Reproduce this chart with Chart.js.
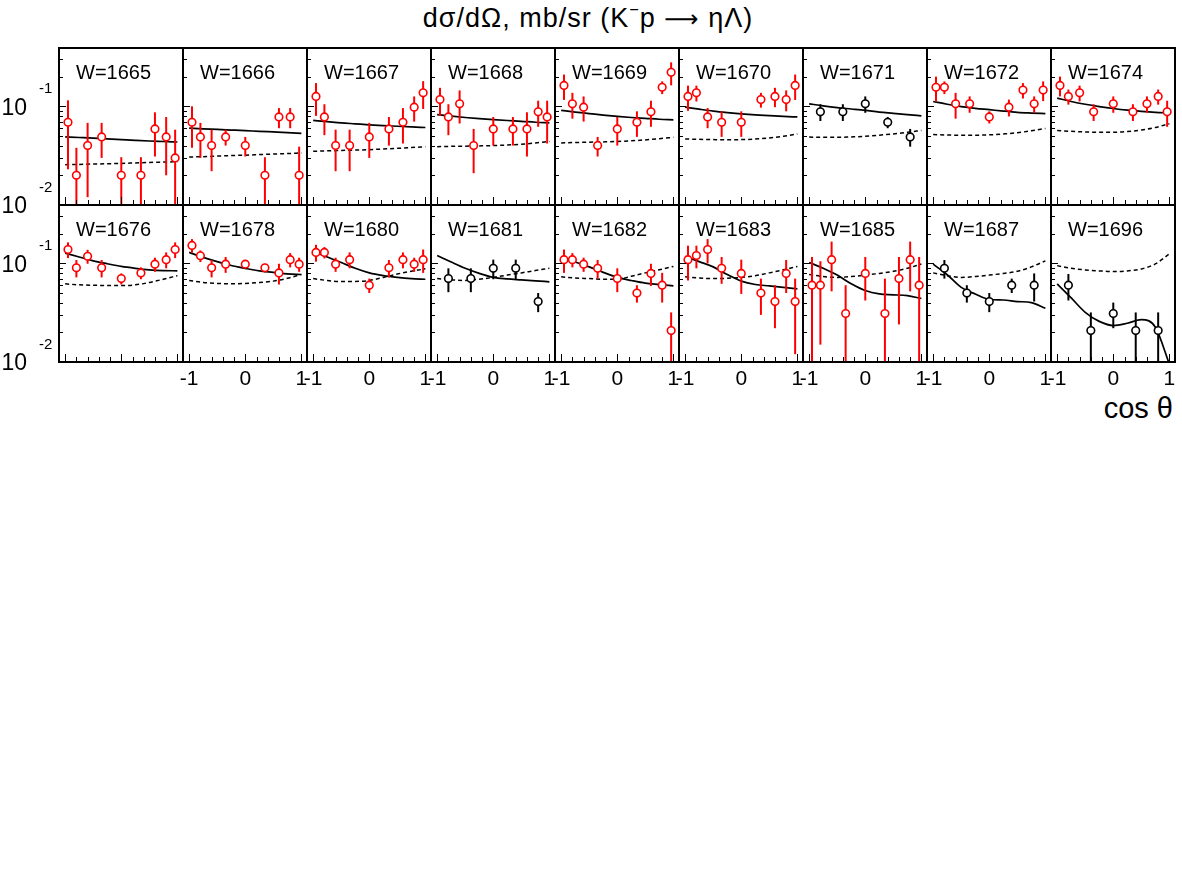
<!DOCTYPE html>
<html>
<head>
<meta charset="utf-8">
<script src="https://cdn.jsdelivr.net/npm/chart.js@4.4.1/dist/chart.umd.min.js"></script>
<style>
  body { margin: 0; background: #fff; }
  #figure { position: relative; width: 1182px; height: 886px; background: #fff; overflow: hidden;
            font-family: "Liberation Sans", Arial, sans-serif; color: #000; }
  #figure canvas { position: absolute; }
  .title { position: absolute; left: 0; width: 1176px; top: 4px; line-height: 28px;
           text-align: center; font-size: 27px; letter-spacing: 1px; white-space: nowrap; }
  .title .sup { font-size: 60%; position: relative; top: -0.75em; }
  .title .arrow { font-family: "DejaVu Sans", sans-serif; font-size: 24px; }
  .xtitle { position: absolute; right: 9px; top: 395px; line-height: 26px; font-size: 29px; white-space: nowrap; }
</style>
</head>
<body>
<div id="figure">
  <div class="title">d&sigma;/d&Omega;, mb/sr (K<span class="sup">&minus;</span>p <span class="arrow">&#x27F6;</span> &eta;&Lambda;)</div>
  <div class="xtitle">cos &theta;</div>
</div>
<script>
// ---- data ---------------------------------------------------------------

const energies = [1665, 1666, 1667, 1668, 1669, 1670, 1671, 1672, 1674,
                  1676, 1678, 1680, 1681, 1682, 1683, 1685, 1687, 1696];

// W values whose data set is plotted with black markers
const blackSets = [1671, 1681, 1687, 1696];

// cos(theta) of the measured points
const cosRed = [-0.95, -0.8, -0.6, -0.35, 0.0, 0.35, 0.6, 0.8, 0.96];
const cosBlack = [-0.8, -0.4, 0.0, 0.4, 0.8];

// dsigma/dOmega, mb/sr
const dsdo = [
  [0.069, 0.020, 0.040, 0.049, 0.020, 0.020, 0.059, 0.049, 0.030],
  [0.069, 0.049, 0.040, 0.049, 0.040, 0.020, 0.078, 0.078, 0.020],
  [0.126, 0.078, 0.040, 0.040, 0.049, 0.059, 0.069, 0.098, 0.137],
  [0.117, 0.078, 0.106, 0.040, 0.059, 0.059, 0.059, 0.088, 0.078],
  [0.163, 0.106, 0.098, 0.040, 0.059, 0.069, 0.088, 0.156, 0.221],
  [0.126, 0.137, 0.078, 0.069, 0.069, 0.117, 0.126, 0.117, 0.163],
  [0.088, 0.088, 0.106, 0.069, 0.049],
  [0.156, 0.156, 0.106, 0.106, 0.078, 0.098, 0.146, 0.106, 0.146],
  [0.163, 0.126, 0.137, 0.088, 0.106, 0.088, 0.106, 0.126, 0.088],
  [0.138, 0.090, 0.118, 0.090, 0.070, 0.080, 0.098, 0.109, 0.138],
  [0.152, 0.119, 0.090, 0.098, 0.098, 0.090, 0.080, 0.109, 0.098],
  [0.129, 0.129, 0.098, 0.109, 0.060, 0.090, 0.109, 0.098, 0.109],
  [0.070, 0.070, 0.089, 0.089, 0.041],
  [0.109, 0.109, 0.098, 0.089, 0.070, 0.050, 0.079, 0.060, 0.0208],
  [0.109, 0.120, 0.138, 0.089, 0.079, 0.050, 0.041, 0.079, 0.041],
  [0.060, 0.060, 0.109, 0.031, 0.079, 0.031, 0.070, 0.109, 0.060],
  [0.089, 0.050, 0.041, 0.060, 0.060],
  [0.060, 0.0208, 0.031, 0.0208, 0.0208]
];

const dsdoErr = [
  [0.046, 0.018, 0.028, 0.019, 0.0105, 0.0105, 0.028, 0.029, 0.028],
  [0.031, 0.019, 0.018, 0.009, 0.009, 0.0105, 0.018, 0.018, 0.019],
  [0.046, 0.027, 0.018, 0.018, 0.019, 0.019, 0.027, 0.028, 0.043],
  [0.037, 0.027, 0.039, 0.019, 0.019, 0.019, 0.028, 0.026, 0.036],
  [0.047, 0.031, 0.028, 0.009, 0.019, 0.020, 0.026, 0.023, 0.058],
  [0.036, 0.025, 0.018, 0.020, 0.020, 0.020, 0.028, 0.028, 0.047],
  [0.017, 0.017, 0.020, 0.009, 0.010],
  [0.044, 0.023, 0.031, 0.020, 0.011, 0.019, 0.026, 0.020, 0.033],
  [0.037, 0.022, 0.025, 0.017, 0.020, 0.017, 0.020, 0.022, 0.026],
  [0.025, 0.018, 0.019, 0.018, 0.009, 0.011, 0.016, 0.020, 0.025],
  [0.024, 0.016, 0.018, 0.018, 0.008, 0.009, 0.019, 0.018, 0.016],
  [0.025, 0.017, 0.016, 0.020, 0.010, 0.018, 0.020, 0.016, 0.029],
  [0.019, 0.019, 0.020, 0.020, 0.009],
  [0.029, 0.018, 0.016, 0.019, 0.019, 0.010, 0.020, 0.020, 0.011],
  [0.042, 0.031, 0.038, 0.027, 0.030, 0.020, 0.019, 0.029, 0.029],
  [0.056, 0.045, 0.057, 0.029, 0.037, 0.039, 0.046, 0.057, 0.056],
  [0.019, 0.010, 0.009, 0.010, 0.019],
  [0.018, 0.011, 0.009, 0.011, 0.011]
];

// model curves, sampled at curveCos
const curveCos = [-1, -0.75, -0.5, -0.25, 0, 0.25, 0.5, 0.75, 1];

const fitSolid = [
  [0.049, 0.0483, 0.0476, 0.0468, 0.046, 0.0452, 0.0445, 0.044, 0.0435],
  [0.060, 0.0592, 0.0583, 0.0575, 0.0567, 0.0558, 0.055, 0.0542, 0.0533],
  [0.072, 0.070, 0.068, 0.0665, 0.065, 0.0638, 0.0628, 0.0618, 0.061],
  [0.0823, 0.0795, 0.077, 0.075, 0.0733, 0.0718, 0.0705, 0.069, 0.068],
  [0.091, 0.0875, 0.0845, 0.0815, 0.079, 0.077, 0.0755, 0.074, 0.073],
  [0.098, 0.0935, 0.0895, 0.0865, 0.084, 0.082, 0.0805, 0.079, 0.078],
  [0.106, 0.101, 0.097, 0.094, 0.091, 0.0875, 0.085, 0.0825, 0.080],
  [0.112, 0.105, 0.0995, 0.0955, 0.0925, 0.0895, 0.087, 0.0855, 0.0843],
  [0.121, 0.112, 0.105, 0.0995, 0.095, 0.0915, 0.089, 0.087, 0.0856],
  [0.127, 0.116, 0.106, 0.099, 0.093, 0.089, 0.086, 0.0845, 0.084],
  [0.129, 0.115, 0.104, 0.095, 0.089, 0.084, 0.081, 0.078, 0.077],
  [0.132, 0.116, 0.102, 0.089, 0.080, 0.075, 0.072, 0.070, 0.069],
  [0.120, 0.103, 0.089, 0.079, 0.072, 0.0695, 0.068, 0.0665, 0.065],
  [0.117, 0.103, 0.092, 0.081, 0.072, 0.067, 0.063, 0.061, 0.059],
  [0.117, 0.104, 0.092, 0.077, 0.066, 0.061, 0.059, 0.057, 0.055],
  [0.102, 0.089, 0.076, 0.062, 0.053, 0.049, 0.048, 0.047, 0.044],
  [0.098, 0.0766, 0.057, 0.0488, 0.043, 0.0425, 0.041, 0.040, 0.035],
  [0.0618, 0.0446, 0.0319, 0.0258, 0.0234, 0.0247, 0.0269, 0.0225, 0.0095]
];

const fitDashed = [
  [0.0256, 0.0258, 0.026, 0.0262, 0.0264, 0.0267, 0.027, 0.0272, 0.0275],
  [0.0306, 0.0309, 0.0313, 0.0317, 0.032, 0.0324, 0.0328, 0.0332, 0.0337],
  [0.035, 0.0354, 0.0357, 0.036, 0.0364, 0.0369, 0.0375, 0.0382, 0.039],
  [0.039, 0.0393, 0.0395, 0.0397, 0.040, 0.0405, 0.0413, 0.0425, 0.044],
  [0.0425, 0.043, 0.0433, 0.0436, 0.044, 0.0447, 0.0457, 0.047, 0.0485],
  [0.0467, 0.0463, 0.046, 0.0458, 0.046, 0.0466, 0.0478, 0.0497, 0.0524],
  [0.0488, 0.0485, 0.0485, 0.049, 0.0497, 0.051, 0.0525, 0.0545, 0.057],
  [0.0517, 0.0512, 0.051, 0.051, 0.0514, 0.0525, 0.054, 0.0565, 0.0597],
  [0.057, 0.0558, 0.055, 0.0545, 0.0545, 0.0555, 0.0575, 0.061, 0.0667],
  [0.062, 0.0605, 0.060, 0.0595, 0.0595, 0.0605, 0.064, 0.069, 0.075],
  [0.067, 0.064, 0.0626, 0.062, 0.0626, 0.064, 0.066, 0.0705, 0.077],
  [0.070, 0.067, 0.0653, 0.0655, 0.067, 0.072, 0.078, 0.083, 0.088],
  [0.070, 0.068, 0.067, 0.069, 0.072, 0.076, 0.080, 0.0845, 0.089],
  [0.073, 0.071, 0.070, 0.069, 0.069, 0.074, 0.080, 0.086, 0.093],
  [0.073, 0.071, 0.070, 0.0705, 0.072, 0.075, 0.080, 0.086, 0.093],
  [0.077, 0.0735, 0.072, 0.0735, 0.076, 0.079, 0.083, 0.089, 0.0985],
  [0.080, 0.075, 0.072, 0.0735, 0.076, 0.079, 0.083, 0.092, 0.106],
  [0.0948, 0.089, 0.0857, 0.0838, 0.0824, 0.0838, 0.0877, 0.0986, 0.1245]
];

const xTickLabels = [-1, 0, 1];
const yLabelValues = [0.1, 0.01];

// ---- layout ---------------------------------------------------------------

const FRAME_W = 124, FRAME_H = 157;
const FRAME_X0 = 59, FRAME_Y0 = 48;
const PAD = { left: 60, right: 8, top: 8, bottom: 70 };
const FONT = '"Liberation Sans", Arial, sans-serif';

// frame, inward ticks, labels and error bars, ROOT style
const panelDeco = {
  id: 'panelDeco',
  beforeDatasetDraw(chart, args) {
    if (args.index !== 0) return;
    const ds = chart.data.datasets[0];
    const { ctx, chartArea: a } = chart;
    const { x, y } = chart.scales;
    ctx.save();
    ctx.beginPath();
    ctx.rect(a.left, a.top, a.right - a.left, a.bottom - a.top);
    ctx.clip();
    ctx.strokeStyle = ds.borderColor;
    ctx.lineWidth = 2;
    ds.data.forEach(p => {
      const px = x.getPixelForValue(p.x);
      const top = y.getPixelForValue(p.y + p.err);
      const lo = p.y - p.err;
      const bottom = lo > 0 ? y.getPixelForValue(lo) : a.bottom + 5;
      ctx.beginPath();
      ctx.moveTo(px, top);
      ctx.lineTo(px, bottom);
      ctx.stroke();
    });
    ctx.restore();
  },
  afterDraw(chart, args, opts) {
    const { ctx, chartArea: a } = chart;
    const { x, y } = chart.scales;
    ctx.save();
    ctx.strokeStyle = '#000';
    ctx.fillStyle = '#000';

    // y ticks on the left edge
    ctx.lineWidth = 1;
    [0.02, 0.03, 0.04, 0.05, 0.06, 0.07, 0.08, 0.09, 0.1, 0.2, 0.3].forEach(v => {
      const py = Math.round(y.getPixelForValue(v)) + 0.5;
      const len = v === 0.1 ? 7 : 4;
      ctx.beginPath();
      ctx.moveTo(a.left, py);
      ctx.lineTo(a.left + len, py);
      ctx.stroke();
    });
    // x ticks on the bottom edge
    for (let k = -5; k <= 5; k++) {
      const px = Math.round(x.getPixelForValue(k * 0.2)) + 0.5;
      const len = k % 5 === 0 ? 8 : 5;
      ctx.beginPath();
      ctx.moveTo(px, a.bottom);
      ctx.lineTo(px, a.bottom - len);
      ctx.stroke();
    }

    // frame
    ctx.lineWidth = 2;
    ctx.strokeRect(a.left, a.top, a.right - a.left, a.bottom - a.top);

    // panel label
    ctx.font = '20px ' + FONT;
    ctx.textAlign = 'left';
    ctx.textBaseline = 'alphabetic';
    ctx.fillText('W=' + opts.w, a.left + 17, a.top + 30.5);

    if (opts.showX) {
      ctx.font = '21px ' + FONT;
      ctx.textAlign = 'center';
      ctx.textBaseline = 'top';
      xTickLabels.forEach(v => ctx.fillText(String(v), x.getPixelForValue(v), a.bottom + 7));
    }
    if (opts.showY) {
      yLabelValues.forEach(v => {
        const py = y.getPixelForValue(v);
        ctx.textBaseline = 'middle';
        ctx.font = '23px ' + FONT;
        ctx.textAlign = 'right';
        ctx.fillText('10', a.left - 32, py + 2);
        ctx.font = '15px ' + FONT;
        ctx.textAlign = 'left';
        ctx.fillText(String(Math.round(Math.log10(v))), a.left - 20, py - 17);
      });
    }
    ctx.restore();
  }
};

const figure = document.getElementById('figure');

energies.forEach((w, i) => {
  const col = i % 9, row = Math.floor(i / 9);
  const canvas = document.createElement('canvas');
  const cw = FRAME_W + PAD.left + PAD.right;
  const ch = FRAME_H + PAD.top + PAD.bottom;
  canvas.width = cw;
  canvas.height = ch;
  canvas.style.width = cw + 'px';
  canvas.style.height = ch + 'px';
  canvas.style.left = (FRAME_X0 + col * FRAME_W - PAD.left) + 'px';
  canvas.style.top = (FRAME_Y0 + row * FRAME_H - PAD.top) + 'px';
  figure.appendChild(canvas);

  const black = blackSets.includes(w);
  const cosPts = black ? cosBlack : cosRed;
  const color = black ? '#000000' : '#ff0000';

  const points = cosPts.map((c, k) => ({ x: c, y: dsdo[i][k], err: dsdoErr[i][k] }));
  const solid = curveCos.map((c, k) => ({ x: c, y: fitSolid[i][k] }));
  const dashed = curveCos.map((c, k) => ({ x: c, y: fitDashed[i][k] }));

  new Chart(canvas, {
    type: 'scatter',
    data: {
      datasets: [
        {
          data: points,
          borderColor: color,
          backgroundColor: '#ffffff',
          pointRadius: 3.8,
          pointBorderWidth: 1.6,
          pointHoverRadius: 3.8,
          showLine: false
        },
        {
          data: solid,
          showLine: true,
          borderColor: '#000000',
          borderWidth: 1.7,
          pointRadius: 0,
          cubicInterpolationMode: 'monotone',
          clip: 0
        },
        {
          data: dashed,
          showLine: true,
          borderColor: '#000000',
          borderWidth: 1.5,
          borderDash: [4, 3],
          pointRadius: 0,
          cubicInterpolationMode: 'monotone',
          clip: 0
        }
      ]
    },
    options: {
      responsive: false,
      animation: false,
      devicePixelRatio: 1,
      events: [],
      layout: { padding: PAD },
      scales: {
        x: { type: 'linear', min: -1.11, max: 1.1, display: false },
        y: { type: 'logarithmic', min: 0.01, max: 0.39, display: false }
      },
      plugins: {
        legend: { display: false },
        tooltip: { enabled: false },
        panelDeco: { w: w, showX: row === 1 && col > 0, showY: col === 0 }
      }
    },
    plugins: [panelDeco]
  });
});
</script>
</body>
</html>
